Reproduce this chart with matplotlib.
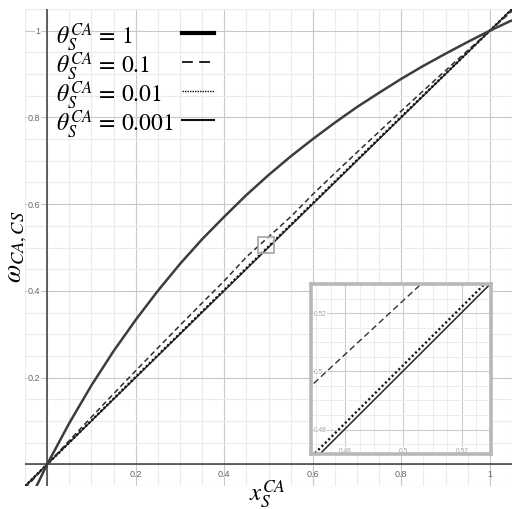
import numpy as np
import matplotlib
matplotlib.use("Agg")
import matplotlib.pyplot as plt
from matplotlib.lines import Line2D
from matplotlib.patches import Rectangle

plt.rcParams['mathtext.fontset'] = 'stix'
plt.rcParams['font.family'] = ['Liberation Sans', 'DejaVu Sans']

# ---------------- data ----------------
x_vals = [-0.05, 0.0, 0.05, 0.10, 0.15, 0.20, 0.25, 0.30, 0.35, 0.40, 0.45, 0.50,
          0.55, 0.60, 0.65, 0.70, 0.75, 0.80, 0.85, 0.90, 0.95, 1.00, 1.05]
omega_theta_1 = [-0.105, 0.0, 0.095, 0.182, 0.261, 0.333, 0.400, 0.462, 0.519, 0.571, 0.621,
                 0.667, 0.710, 0.750, 0.788, 0.824, 0.857, 0.889, 0.919, 0.947, 0.974, 1.000, 1.024]
omega_theta_0_1 = [-0.0553, 0.0, 0.0547, 0.1089, 0.1626, 0.2157, 0.2683, 0.3204, 0.3720, 0.4231,
                   0.4780, 0.5244, 0.5707, 0.6226, 0.6714, 0.7196, 0.7674, 0.8148, 0.8618,
                   0.9083, 0.9543, 1.0000, 1.0452]
omega_theta_0_01 = [-0.05046, 0.0, 0.05042, 0.10079, 0.15112, 0.20141, 0.25165, 0.30185, 0.35200,
                    0.40211, 0.45218, 0.50220, 0.55218, 0.60211, 0.65200, 0.70185, 0.75165,
                    0.80141, 0.85112, 0.90079, 0.95042, 1.00000, 1.04954]
omega_theta_0_001 = [-0.05005, 0.0, 0.05005, 0.10009, 0.15013, 0.20016, 0.25019, 0.30021, 0.35023,
                     0.40024, 0.45025, 0.50025, 0.55025, 0.60024, 0.65023, 0.70021, 0.75019,
                     0.80016, 0.85013, 0.90009, 0.95005, 1.00000, 1.04995]

legend_labels = [r'$\theta_S^{CA}\,=\,1$', r'$\theta_S^{CA}\,=\,0.1$',
                 r'$\theta_S^{CA}\,=\,0.01$', r'$\theta_S^{CA}\,=\,0.001$']

main_ticks = [0.2, 0.4, 0.6, 0.8, 1.0]
main_tick_labels = ['0.2', '0.4', '0.6', '0.8', '1']
inset_ticks = [0.48, 0.50, 0.52]
inset_tick_labels = ['0.48', '0.5', '0.52']

zoom_box = (0.4765, 0.4877, 0.0358, 0.0358)  # x0, y0, w, h

# ---------------- figure ----------------
W, H = 512, 510
fig = plt.figure(figsize=(W / 100, H / 100), dpi=100)
ax = fig.add_axes([25 / W, 23 / H, 487 / W, 477 / H])
ax.set_xlim(-0.0492, 1.0403)
ax.set_ylim(-0.0403, 1.0268)

for s in ax.spines.values():
    s.set_visible(False)
ax.set_xticks(np.arange(0, 1.01, 0.2))
ax.set_yticks(np.arange(0, 1.01, 0.2))
ax.set_xticks(np.arange(-0.05, 1.06, 0.05), minor=True)
ax.set_yticks(np.arange(-0.05, 1.06, 0.05), minor=True)
ax.tick_params(which='both', length=0, labelbottom=False, labelleft=False)
ax.grid(which='minor', color='#ebebeb', lw=0.8)
ax.grid(which='major', color='#c8c8c8', lw=0.8)
ax.set_axisbelow(True)

ax.axhline(0, color='#3c3c3c', lw=1.1, zorder=2)
ax.axvline(0, color='#3c3c3c', lw=1.1, zorder=2)

for v, lab in zip(main_ticks, main_tick_labels):
    ax.text(v, -0.010, lab, ha='center', va='top', fontsize=6.5, color='#666666', zorder=3)
    ax.text(-0.015, v, lab, ha='right', va='center', fontsize=6.5, color='#666666', zorder=3,
            bbox=dict(facecolor='white', edgecolor='none', pad=0.6))

lc = '#2e2e2e'
ax.plot(x_vals, omega_theta_0_001, color=lc, lw=1.1, zorder=4)
ax.plot(x_vals, omega_theta_0_01, color='#111111', lw=1.7, ls=(0, (0.9, 0.9)), zorder=5)
ax.plot(x_vals, omega_theta_0_1, color=lc, lw=1.1, ls=(0, (3.5, 2.2)), zorder=5)
ax.plot(x_vals, omega_theta_1, color='#3d3d3d', lw=1.8, zorder=6, solid_capstyle='butt')

ax.add_patch(Rectangle(zoom_box[:2], zoom_box[2], zoom_box[3], fill=False,
                       edgecolor='#aaaaaa', lw=1.3, zorder=7))

# legend (text left, sample right)
legend_styles = [dict(lw=3.0, ls='-', color='black'),
                 dict(lw=1.3, ls=(0, (6, 3.5)), color='#111111'),
                 dict(lw=1.0, ls=(0, (1, 0.8)), color='#111111'),
                 dict(lw=1.5, ls='-', color='#111111')]
legend_y = [37, 66, 95, 124]
for lab, st, yp in zip(legend_labels, legend_styles, legend_y):
    fig.text(56 / W, 1 - yp / H, lab, fontsize=17, ha='left', va='center', color='black')
    fig.add_artist(Line2D([182 / W, 214 / W], [1 - (yp - 3) / H, 1 - (yp - 3) / H],
                          transform=fig.transFigure, **st))

fig.text(267 / W, 1 - 494 / H, r'$x_S^{CA}$', fontsize=18, ha='center', va='center')
fig.text(17 / W, 1 - 247 / H, r'$\omega_{CA,CS}$', fontsize=19, ha='center', va='center',
         rotation=90)

# ---------------- inset ----------------
axi = fig.add_axes([311 / W, (H - 455) / H, 180 / W, 170 / H])
axi.set_xlim(0.4683, 0.5268)
axi.set_ylim(0.4716, 0.5271)
axi.set_xticks(inset_ticks)
axi.set_yticks(inset_ticks)
axi.set_xticks(np.arange(0.47, 0.53, 0.005), minor=True)
axi.set_yticks(np.arange(0.475, 0.53, 0.005), minor=True)
axi.tick_params(which='both', length=0, labelbottom=False, labelleft=False)
axi.grid(which='minor', color='#ececec', lw=0.7)
axi.grid(which='major', color='#cccccc', lw=0.8)
axi.set_axisbelow(True)
for s in axi.spines.values():
    s.set_color('#b8b8b8')
    s.set_linewidth(2.6)
    s.set_zorder(10)

for v, lab in zip(inset_ticks, inset_tick_labels):
    axi.text(0.4694, v, lab, ha='left', va='center', fontsize=4.8, color='#a0a0a0',
             bbox=dict(facecolor='white', edgecolor='none', pad=0.3), zorder=3)
    axi.text(v, 0.4727, lab, ha='center', va='center', fontsize=4.8, color='#a0a0a0',
             bbox=dict(facecolor='white', edgecolor='none', pad=0.3), zorder=3)

axi.plot(x_vals, omega_theta_0_001, color='#222222', lw=1.1, zorder=4)
axi.plot(x_vals, omega_theta_0_01, color='#111111', lw=1.7, ls=(0, (0.9, 1.1)), zorder=5)
axi.plot(x_vals, omega_theta_0_1, color='#333333', lw=1.0, ls=(0, (4.5, 2.6)), zorder=5)
axi.plot(x_vals, omega_theta_1, color='#3d3d3d', lw=1.8, zorder=6)

fig.savefig('out.png', dpi=100)
